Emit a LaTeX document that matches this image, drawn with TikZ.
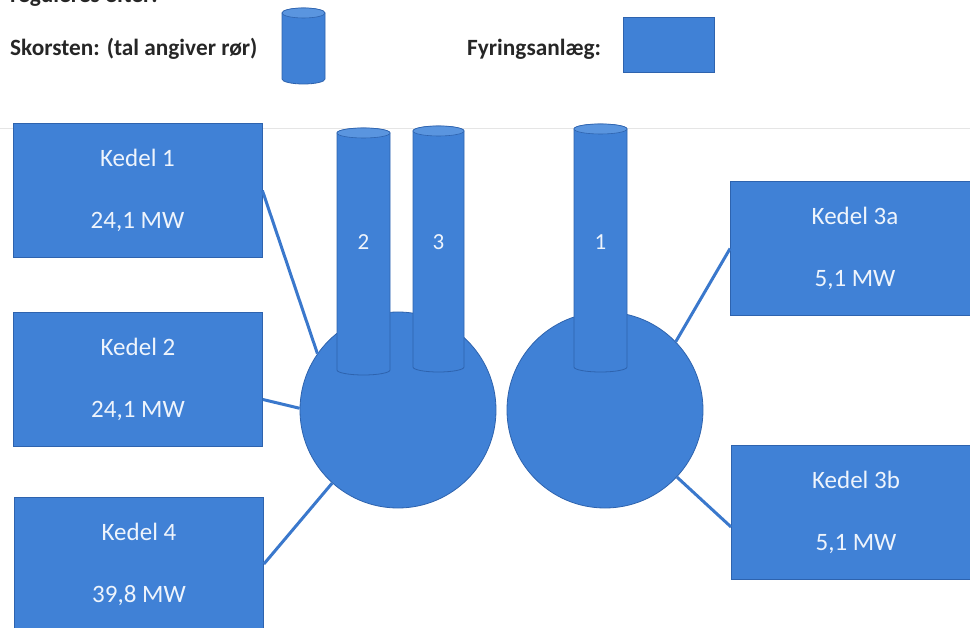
\documentclass[tikz,border=0pt]{standalone}
\usepackage{fontspec}
\setmainfont{Carlito}
\usetikzlibrary{calc}
\definecolor{bfill}{HTML}{4081D6}
\definecolor{bdraw}{HTML}{2E63AE}
\definecolor{btop}{HTML}{5A95DF}
\definecolor{btext}{HTML}{EEF4FC}
\definecolor{lcol}{HTML}{3A78CC}
\newcommand\drawchimney[4]{% cx, ytop, ybot, rx
  \path[fill=bfill, draw=bdraw, line width=0.8pt] (#1-#4,#2) -- (#1-#4,#3)
     arc[start angle=180,end angle=360,x radius=#4pt,y radius=5pt] -- (#1+#4,#2)
     arc[start angle=0,end angle=180,x radius=#4pt,y radius=5pt] -- cycle;
  \path[fill=btop, draw=bdraw, line width=0.6pt] (#1,#2) ellipse[x radius=#4pt, y radius=5pt];
}
\begin{document}
\begin{tikzpicture}[x=1pt,y=-1pt,
  kbox/.style={rectangle, draw=bdraw, fill=bfill, line width=0.8pt, minimum width=249pt, minimum height=134pt, inner sep=0pt, text=btext, align=center, font=\fontsize{25pt}{62pt}\selectfont},
  fyr/.style={circle, draw=bdraw, fill=bfill, line width=0.8pt, minimum size=196pt, inner sep=0pt},
  conn/.style={draw=lcol, line width=3pt},
  legend/.style={font=\bfseries\fontsize{23.3pt}{26pt}\selectfont, text=black!85, inner sep=0pt, anchor=base west},
  pipenum/.style={font=\fontsize{23pt}{26pt}\selectfont, text=btext, inner sep=0pt}
]
\useasboundingbox (0,0) rectangle (970,628);
\clip (0,0) rectangle (970,628);

% header (cut off at top, as in the reference)
\node[legend] (hdr) at (10,3) {reguleres efter:};

% legend
\node[legend] (lsk) at (10,56) {Skorsten: (tal angiver rør)};
\drawchimney{303.5}{13}{79}{21.5}
\node[legend] (lfy) at (467,56) {Fyringsanlæg:};
\path[fill=bfill, draw=bdraw, line width=0.6pt] (623,17) rectangle (714,72);

% faint separator line
\draw[black!10, line width=0.8pt] (0,128) -- (970,128);

% boilers
\node[kbox] (k1) at (137.5,190.5) {Kedel 1\\24,1 MW};
\node[kbox] (k2) at (138,379.5) {Kedel 2\\24,1 MW};
\node[kbox] (k4) at (139,564) {Kedel 4\\39,8 MW};
\node[kbox] (k3a) at (855,248.5) {Kedel 3a\\5,1 MW};
\node[kbox] (k3b) at (856,512) {Kedel 3b\\5,1 MW};

% firing units
\node[fyr] (c1) at (398,410) {};
\node[fyr] (c2) at (605,410) {};

% chimneys
\drawchimney{363.5}{133}{370}{26.5}
\drawchimney{438.5}{131}{367}{25.5}
\drawchimney{600.5}{129}{367}{26.5}
\node[pipenum] (p2) at (363.5,242) {2};
\node[pipenum] (p3) at (438.5,242) {3};
\node[pipenum] (p1) at (600.5,242) {1};

% connectors
\draw[conn] (k1.east) -- (c1.145);
\draw[conn] ($(k2.east)+(0,20)$) -- (c1.179);
\draw[conn] (k4.east) -- (c1.228);
\draw[conn] (k3a.west) -- (c2.44);
\draw[conn] ($(k3b.west)+(0,15)$) -- (c2.-43);
\end{tikzpicture}
\end{document}
